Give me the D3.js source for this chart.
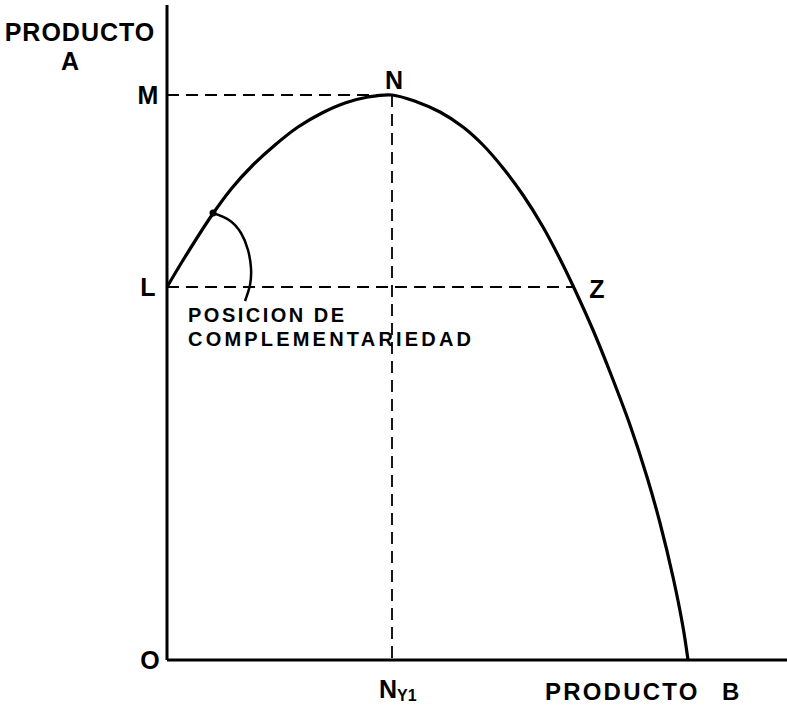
<!DOCTYPE html>
<html>
<head>
<meta charset="utf-8">
<script src="https://d3js.org/d3.v7.min.js"></script>
<style>
  body { margin: 0; background: #fff; }
  text { font-family: "Liberation Sans", Arial, sans-serif; font-weight: bold; fill: #000; }
</style>
</head>
<body>
<script>
// frontier curve (producto B, producto A)
const curveB = [0, 18, 45, 65, 85, 108, 131, 155, 178, 201, 225, 250, 273, 296, 316, 336, 356, 376, 393, 408, 426, 443, 463, 480, 493, 506, 516, 521];
const curveA = [373, 403, 445, 472, 494, 515, 533, 547, 557, 563, 565, 558, 548, 533, 515, 492, 465, 433, 401, 370, 330, 288, 235, 183, 137, 83, 33, 0];

// key levels
const levelL = 373;
const levelM = 565;
const pointN = 225;
const pointZ = 408;

// the little arc pointing at the complementary zone
const arcB = [46, 62, 74, 81, 84, 83, 78];
const arcA = [447, 440, 427, 410, 392, 375, 359];

const width = 787, height = 705;
const x0 = 167, y0 = 660;

const svg = d3.select("body").append("svg")
  .attr("width", width)
  .attr("height", height);

const x = d3.scaleLinear().domain([0, 620]).range([x0, 787]);
const y = d3.scaleLinear().domain([0, 655]).range([y0, 5]);

const frontier = curveB.map((b, i) => ({b: b, a: curveA[i]}));
const arc = arcB.map((b, i) => ({b: b, a: arcA[i]}));

// dashed guides
const dash = "12,7";
function guide(b1, a1, b2, a2) {
  svg.append("line")
    .attr("x1", x(b1)).attr("x2", x(b2))
    .attr("y1", y(a1)).attr("y2", y(a2))
    .attr("stroke", "#000").attr("stroke-width", 1.8)
    .attr("stroke-dasharray", dash);
}
guide(0, levelM, pointN, levelM);
guide(0, levelL, pointZ, levelL);
guide(pointN, levelM, pointN, 0);

// axes
svg.append("line")
  .attr("x1", x(0)).attr("x2", x(0))
  .attr("y1", y(0)).attr("y2", y(655))
  .attr("stroke", "#000").attr("stroke-width", 3);
svg.append("line")
  .attr("x1", x(0)).attr("x2", x(620))
  .attr("y1", y(0)).attr("y2", y(0))
  .attr("stroke", "#000").attr("stroke-width", 3);

// frontier
svg.append("path")
  .datum(frontier)
  .attr("fill", "none")
  .attr("stroke", "#000")
  .attr("stroke-width", 3.2)
  .attr("d", d3.line()
    .x(d => x(d.b))
    .y(d => y(d.a))
    .curve(d3.curveCatmullRom.alpha(0.5)));

// pointer arc
svg.append("path")
  .datum(arc)
  .attr("fill", "none")
  .attr("stroke", "#000")
  .attr("stroke-width", 2.5)
  .attr("d", d3.line()
    .x(d => x(d.b))
    .y(d => y(d.a))
    .curve(d3.curveNatural));
svg.append("circle")
  .attr("cx", x(arcB[0])).attr("cy", y(arcA[0]))
  .attr("r", 3.5).attr("fill", "#000");

// labels
function label(txt, px, py, size, anchor, spacing) {
  return svg.append("text")
    .attr("x", px).attr("y", py)
    .attr("font-size", size)
    .attr("text-anchor", anchor || "middle")
    .attr("letter-spacing", spacing || 0)
    .text(txt);
}

label("PRODUCTO", 80, 41, 25, "middle", 1);
label("A", 70, 70, 25);
label("M", x(0) - 19, y(levelM) + 9, 25);
label("L", x(0) - 19, y(levelL) + 9, 25);
label("O", x(0) - 17, y(0) + 9, 25);
label("N", x(pointN) + 2, y(levelM) - 6, 25);
label("Z", x(pointZ) + 22, y(levelL) + 11, 25);

const ny = svg.append("text")
  .attr("x", x(pointN) - 13).attr("y", y(0) + 38)
  .attr("font-size", 25)
  .text("N");
ny.append("tspan")
  .attr("font-size", 16)
  .attr("dy", 3)
  .text("Y1");

label("PRODUCTO", 545, 700, 24, "start", 2.2);
label("B", 722, 700, 24, "start");
label("POSICION DE", 188, 322, 20, "start", 2.5);
label("COMPLEMENTARIEDAD", 188, 346, 20, "start", 3.2);
</script>
</body>
</html>
